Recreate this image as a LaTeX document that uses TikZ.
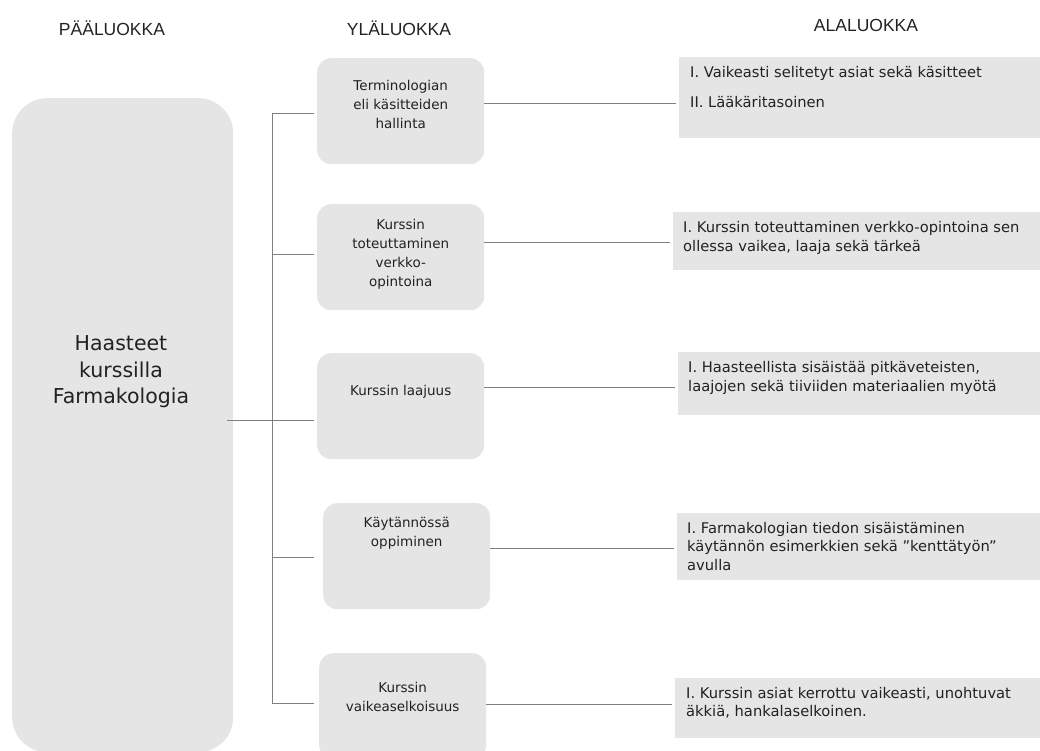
\documentclass[tikz,border=0pt]{standalone}
\usepackage{fontspec}
\setmainfont{DejaVu Sans}
\newfontfamily\headfont{Liberation Sans}
\definecolor{boxgrey}{HTML}{E6E5E6}
\definecolor{linegrey}{HTML}{808080}
\definecolor{txtgrey}{HTML}{222222}

\begin{document}
\begin{tikzpicture}[x=1pt, y=-1pt,
    head/.style={font=\headfont\fontsize{17.5}{20}\selectfont, text=txtgrey, anchor=base},
    ybox/.style={fill=boxgrey, rounded corners=14pt, minimum width=167pt, minimum height=106pt, inner sep=0pt, anchor=north west},
    ytext/.style={font=\fontsize{13.5}{19}\selectfont, text=txtgrey, align=center, inner sep=0pt, anchor=north},
    abox/.style={fill=boxgrey, minimum width=370pt, inner sep=0pt, anchor=north west},
    atext/.style={font=\fontsize{14.7}{18.5}\selectfont, text=txtgrey, align=left, inner sep=0pt, anchor=north west},
    conn/.style={draw=linegrey, line width=0.9pt}]
    \useasboundingbox (0,0) rectangle (1040,751);
    \clip (0,0) rectangle (1040,751);

    % Column headers
    \node[head] (h1) at (112,36) {PÄÄLUOKKA};
    \node[head] (h2) at (399,36) {YLÄLUOKKA};
    \node[head] (h3) at (866,32) {ALALUOKKA};

    % Main category
    \node[fill=boxgrey, rounded corners=35pt, minimum width=221pt, minimum height=654pt,
          inner sep=0pt, anchor=north west] (main) at (12,98) {};
    \node[font=\fontsize{20.5}{26.5}\selectfont, text=txtgrey, align=center] (maint) at (121,372)
        {Haasteet\\kurssilla\\Farmakologia};

    % Upper categories
    \node[ybox] (y1) at (317,58) {};
    \node[ybox] (y2) at (317,204) {};
    \node[ybox] (y3) at (317,353) {};
    \node[ybox] (y4) at (323,503) {};
    \node[ybox] (y5) at (319,653) {};
    \node[ytext] (y1t) at ([yshift=-22pt]y1.north) {Terminologian\\eli käsitteiden\\hallinta};
    \node[ytext] (y2t) at ([yshift=-15pt]y2.north) {Kurssin\\toteuttaminen\\verkko-\\opintoina};
    \node[ytext] (y3t) at ([yshift=-32pt]y3.north) {Kurssin laajuus};
    \node[ytext] (y4t) at ([yshift=-14pt]y4.north) {Käytännössä\\oppiminen};
    \node[ytext] (y5t) at ([yshift=-29pt]y5.north) {Kurssin\\vaikeaselkoisuus};

    % Sub categories
    \node[abox, minimum height=81pt] (a1) at (679,57) {};
    \node[abox, minimum height=58pt] (a2) at (673,212) {};
    \node[abox, minimum height=63pt] (a3) at (678,352) {};
    \node[abox, minimum height=67pt] (a4) at (677,513) {};
    \node[abox, minimum height=60pt] (a5) at (675,678) {};
    \node[atext] (a1t) at ([shift={(11pt,-9.5pt)}]a1.north west)
        {I. Vaikeasti selitetyt asiat sekä käsitteet\\[11.5pt]II. Lääkäritasoinen};
    \node[atext] (a2t) at ([shift={(10pt,-9.5pt)}]a2.north west)
        {I. Kurssin toteuttaminen verkko-opintoina sen\\ollessa vaikea, laaja sekä tärkeä};
    \node[atext] (a3t) at ([shift={(10pt,-9.5pt)}]a3.north west)
        {I. Haasteellista sisäistää pitkäveteisten,\\laajojen sekä tiiviiden materiaalien myötä};
    \node[atext] (a4t) at ([shift={(10pt,-9pt)}]a4.north west)
        {I. Farmakologian tiedon sisäistäminen\\käytännön esimerkkien sekä ”kenttätyön”\\avulla};
    \node[atext] (a5t) at ([shift={(11pt,-9pt)}]a5.north west)
        {I. Kurssin asiat kerrottu vaikeasti, unohtuvat\\äkkiä, hankalaselkoinen.};

    % Tree lines on the left
    \coordinate (b1) at (272,113);
    \coordinate (b2) at (272,254);
    \coordinate (b3) at (272,420);
    \coordinate (b4) at (272,557);
    \coordinate (b5) at (272,703);
    \draw[conn] (b1) -- (b5);
    \draw[conn] ([xshift=-6pt]main.east |- b3) -- (b3);
    \foreach \b/\y/\s in {b1/y1/3pt, b2/y2/3pt, b3/y3/3pt, b4/y4/9pt, b5/y5/5pt}
        \draw[conn, shorten >=\s] (\b) -- (\b -| \y.west);

    % Lines to the sub categories
    \coordinate (r1) at (580,103);
    \coordinate (r2) at (580,242);
    \coordinate (r3) at (580,387);
    \coordinate (r4) at (580,548);
    \coordinate (r5) at (580,704);
    \foreach \r/\y/\a in {r1/y1/a1, r2/y2/a2, r3/y3/a3, r4/y4/a4, r5/y5/a5}
        \draw[conn, shorten >=3pt] (\r -| \y.east) -- (\r -| \a.west);
\end{tikzpicture}
\end{document}
